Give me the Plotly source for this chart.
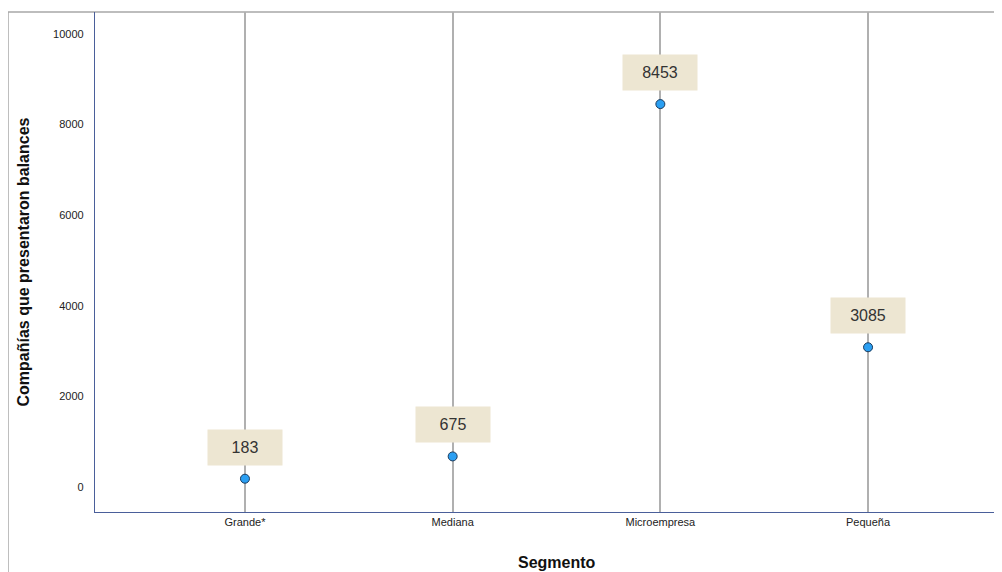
import plotly.graph_objects as go

categories = ["Grande*", "Mediana", "Microempresa", "Pequeña"]
values = [183, 675, 8453, 3085]
y_ticks = [0, 2000, 4000, 6000, 8000, 10000]

fig = go.Figure()
fig.add_trace(go.Scatter(
    x=list(range(len(categories))), y=values, mode="markers",
    marker=dict(size=9, color="#2b9ff2", line=dict(color="#1b3a5c", width=1)),
    showlegend=False, hoverinfo="skip"))

for i, v in enumerate(values):
    fig.add_annotation(x=i, y=v, text=str(v), showarrow=False,
                       xref="x", yref="y", yanchor="bottom", yshift=13,
                       bgcolor="#ede6d2", width=72, height=33,
                       font=dict(family="Liberation Sans, Arial", size=16, color="#333333"))

# x axis title (centred as in the reference, whose plot area runs past the window)
fig.add_annotation(text="<b>Segmento</b>", xref="paper", yref="paper",
                   x=0.5066, y=0, yshift=-50, yanchor="middle", showarrow=False,
                   font=dict(family="Liberation Sans, Arial", size=16, color="#111111"))

# outer frame
fig.add_shape(type="rect", xref="paper", yref="paper",
              x0=-0.0954, x1=1.2, y0=-0.3, y1=1.0,
              line=dict(color="#a8a8a8", width=1.5), layer="below")

fig.update_layout(
    width=1002, height=572,
    margin=dict(l=87, r=3, t=4, b=68),
    paper_bgcolor="white", plot_bgcolor="white",
    font=dict(family="Liberation Sans, Arial", color="#222222"),
    xaxis=dict(
        range=[-0.722, 3.669], tickmode="array",
        tickvals=list(range(len(categories))), ticktext=categories,
        showgrid=True, gridcolor="#b0b0b0", gridwidth=1.6,
        showline=True, linecolor="#4a5f9a", linewidth=1.2,
        ticks="", tickfont=dict(size=11, color="#222222"),
        zeroline=False),
    yaxis=dict(
        range=[-552, 10486], tickmode="array", tickvals=y_ticks,
        ticktext=[str(t) for t in y_ticks],
        showgrid=False, zeroline=False,
        showline=True, linecolor="#4a5f9a", linewidth=1.2,
        ticks="", ticklabelstandoff=8, tickfont=dict(size=11, color="#222222"),
        title=dict(text="<b>Compañías que presentaron balances</b>",
                   font=dict(size=16, color="#111111"), standoff=19)),
)

fig.write_html("out.html")
